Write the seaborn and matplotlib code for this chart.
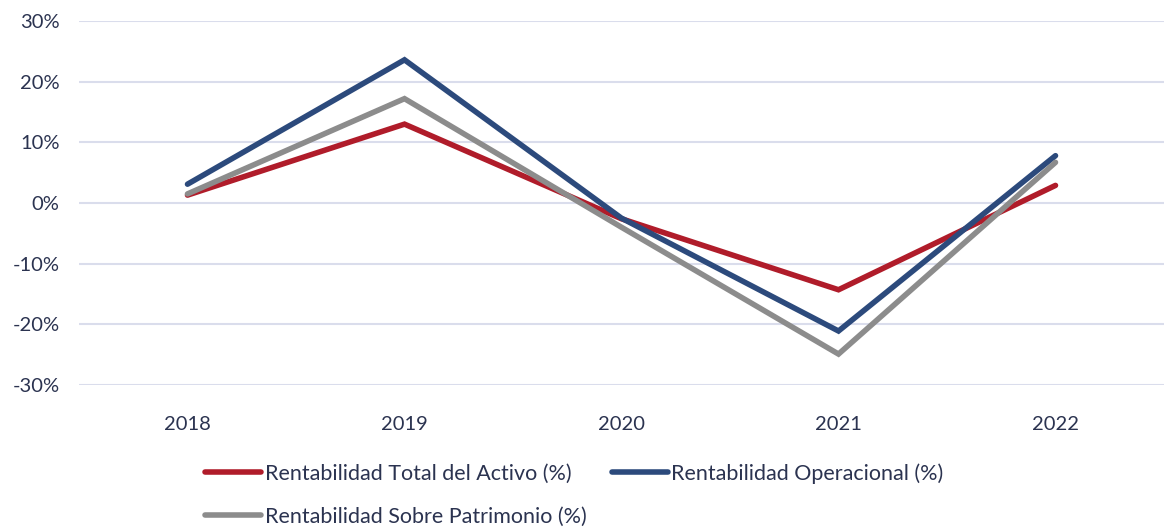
import matplotlib
matplotlib.use("Agg")
import matplotlib.pyplot as plt
import seaborn as sns
import pandas as pd

years = ["2018", "2019", "2020", "2021", "2022"]
total_activo = [1.3, 13.0, -2.6, -14.3, 2.9]
operacional = [3.1, 23.6, -2.5, -21.1, 7.8]
sobre_patrimonio = [1.5, 17.2, -4.0, -24.9, 6.7]

series_names = [
    "Rentabilidad Total del Activo (%)",
    "Rentabilidad Operacional (%)",
    "Rentabilidad Sobre Patrimonio (%)",
]
colors = ["#B01C2A", "#2C4A7C", "#8C8C8C"]
text_color = "#2B3350"

df = pd.DataFrame({
    "year": years * 3,
    "value": total_activo + operacional + sobre_patrimonio,
    "serie": [s for s in series_names for _ in years],
})

sns.set_style("white")
plt.rcParams["font.family"] = ["Lato", "DejaVu Sans"]

fig = plt.figure(figsize=(11.64, 5.27), dpi=100)
ax = fig.add_axes([79 / 1164, 1 - 385 / 527, 1 - 79 / 1164, (385 - 21) / 527])

sns.lineplot(data=df, x="year", y="value", hue="serie", palette=colors,
             linewidth=4, ax=ax, legend=False, sort=False)
for line in ax.get_lines():
    line.set_solid_capstyle("round")
    line.set_solid_joinstyle("miter")

ax.set_xlim(-0.5, 4.5)
ax.set_ylim(-30, 30)
ax.set_yticks(range(-30, 31, 10))
ax.set_yticklabels([f"{v}%" for v in range(-30, 31, 10)])
ax.grid(axis="y", color="#DADDEC", linewidth=1.5)
ax.set_axisbelow(True)
for s in ax.spines.values():
    s.set_visible(False)
ax.set_xlabel("")
ax.set_ylabel("")
ax.tick_params(axis="both", length=0, labelsize=14.5, colors=text_color)
ax.tick_params(axis="x", pad=22)
ax.tick_params(axis="y", pad=14)

# legend fills column by column: put the gray one second so it lands on row 2
order = [0, 2, 1]
handles = [plt.Line2D([], [], color=colors[i], linewidth=4, solid_capstyle="round") for i in order]
labels = [series_names[i] for i in order]
leg = fig.legend(handles, labels, loc="upper left", ncol=2,
                 bbox_to_anchor=(186 / 1164, 1 - 444 / 527), frameon=False,
                 fontsize=15.5, handlelength=2.6, handletextpad=0.15,
                 columnspacing=1.2, labelspacing=1.05)
for t in leg.get_texts():
    t.set_color(text_color)

fig.savefig("out.png", dpi=100)
